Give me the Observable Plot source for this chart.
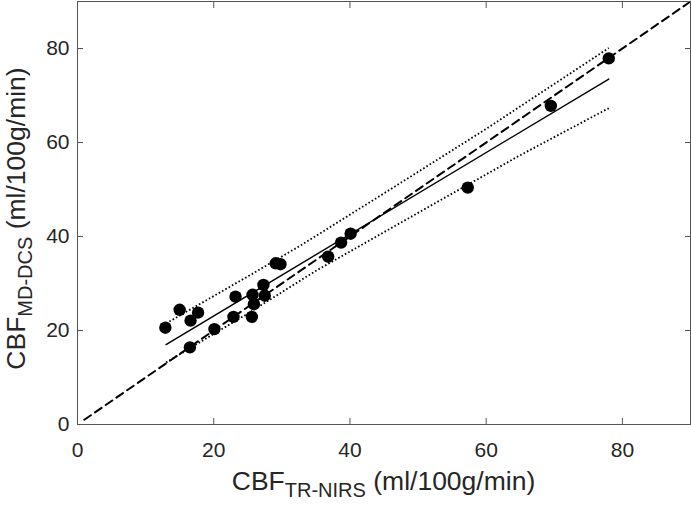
<!DOCTYPE html>
<html>
<head>
<meta charset="utf-8">
<script src="https://cdn.jsdelivr.net/npm/d3@7"></script>
<script src="https://cdn.jsdelivr.net/npm/@observablehq/plot@0.6"></script>
<style>
  html, body { margin: 0; padding: 0; background: #fff; }
</style>
</head>
<body>
<div id="chart"></div>
<script>
// ---- data ----
const xTicks = [0, 20, 40, 60, 80];
const yTicks = [0, 20, 40, 60, 80];

// measured points: CBF TR-NIRS (x) vs CBF MD-DCS (y)
const trNirs = [12.9, 15.0, 16.6, 17.7, 16.5, 20.1, 23.2, 22.9, 25.7, 25.9, 25.6, 27.3, 27.5, 29.1, 29.8, 36.8, 38.7, 40.1, 57.3, 69.5, 78.0];
const mdDcs  = [20.6, 24.4, 22.1, 23.8, 16.4, 20.3, 27.2, 22.9, 27.6, 25.6, 22.9, 29.7, 27.4, 34.3, 34.1, 35.7, 38.7, 40.6, 50.4, 67.8, 77.9];

// regression line (read at its two ends)
const fitX = [13.0, 78.0];
const fitY = [17.0, 73.5];

// dotted interval bounds
const upperX = [13, 25, 33, 47, 60, 78];
const upperY = [21.5, 31.5, 38.3, 51.0, 62.9, 80.1];
const lowerX = [13, 25, 35, 53, 65, 78];
const lowerY = [13.2, 23.6, 32.7, 47.5, 57.3, 67.3];

// identity line
const idX = [1, 90];
const idY = [1, 90];

const pts = trNirs.map((x, i) => ({x, y: mdDcs[i]}));
const fit = fitX.map((x, i) => ({x, y: fitY[i]}));
const upper = upperX.map((x, i) => ({x, y: upperY[i]}));
const lower = lowerX.map((x, i) => ({x, y: lowerY[i]}));
const ident = idX.map((x, i) => ({x, y: idY[i]}));

const ink = "#262626";
const axisCol = "#555";

const W = 691, H = 505, mL = 77, mR = 1, mT = 1, mB = 81;

const svg = Plot.plot({
  width: W, height: H,
  marginLeft: mL, marginRight: mR, marginTop: mT, marginBottom: mB,
  x: {domain: [0, 90]},
  y: {domain: [0, 90]},
  style: {fontFamily: "'Liberation Sans', Arial, sans-serif", color: ink, background: "#fff"},
  marks: [
    Plot.line(ident, {x: "x", y: "y", stroke: "#000", strokeWidth: 2, strokeDasharray: "8,5"}),
    Plot.line(upper, {x: "x", y: "y", stroke: "#000", strokeWidth: 1.8, strokeDasharray: "1.6,2.2", strokeLinecap: "butt"}),
    Plot.line(lower, {x: "x", y: "y", stroke: "#000", strokeWidth: 1.8, strokeDasharray: "1.6,2.2", strokeLinecap: "butt"}),
    Plot.line(fit, {x: "x", y: "y", stroke: "#000", strokeWidth: 1.4}),
    Plot.dot(pts, {x: "x", y: "y", r: 6.2, fill: "#000", stroke: "none"}),
    Plot.frame({stroke: axisCol, strokeWidth: 1}),
    // inward ticks on all four sides
    Plot.axisX(xTicks, {anchor: "bottom", tickSize: -6, tickFormat: () => "", stroke: axisCol, label: null}),
    Plot.axisX(xTicks, {anchor: "top", tickSize: -6, tickFormat: () => "", stroke: axisCol, label: null}),
    Plot.axisY(yTicks, {anchor: "left", tickSize: -6, tickFormat: () => "", stroke: axisCol, label: null}),
    Plot.axisY(yTicks, {anchor: "right", tickSize: -6, tickFormat: () => "", stroke: axisCol, label: null}),
    // tick labels
    Plot.axisX(xTicks, {anchor: "bottom", tickSize: 0, tickPadding: 18, fontSize: 21, fill: ink, label: null}),
    Plot.axisY(yTicks, {anchor: "left", tickSize: 0, tickPadding: 8, fontSize: 21, fill: ink, label: null})
  ]
});

// axis titles with subscripts
const s = d3.select(svg);
const big = 26.5, small = 20;
const cx = mL + (W - mL - mR) / 2;
const xl = s.append("text")
  .attr("x", cx).attr("y", 490)
  .attr("text-anchor", "middle")
  .attr("fill", ink)
  .style("font-family", "'Liberation Sans', Arial, sans-serif")
  .style("font-size", big + "px");
xl.append("tspan").text("CBF");
xl.append("tspan").attr("dy", 7).style("font-size", small + "px").text("TR-NIRS");
xl.append("tspan").attr("dy", -7).text(" (ml/100g/min)");

const cy = mT + (H - mT - mB) / 2 + 6;
const yl = s.append("text")
  .attr("transform", `translate(25,${cy}) rotate(-90)`)
  .attr("text-anchor", "middle")
  .attr("fill", ink)
  .style("font-family", "'Liberation Sans', Arial, sans-serif")
  .style("font-size", big + "px");
yl.append("tspan").text("CBF");
yl.append("tspan").attr("dy", 7).style("font-size", small + "px").text("MD-DCS");
yl.append("tspan").attr("dy", -7).text(" (ml/100g/min)");

document.getElementById("chart").appendChild(svg);
</script>
</body>
</html>
